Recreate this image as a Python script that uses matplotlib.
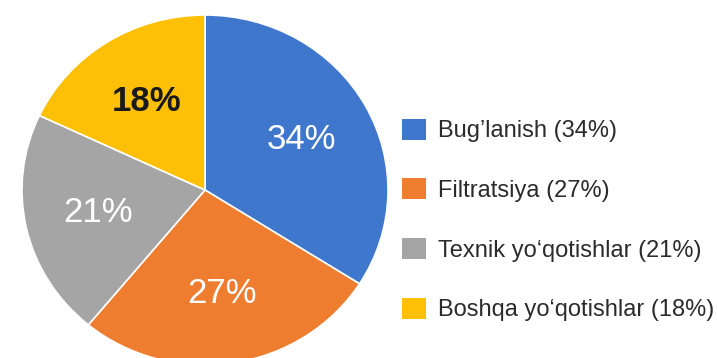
import matplotlib.pyplot as plt
from matplotlib.patches import Patch

# Data
labels = ["Bug’lanish", "Filtratsiya", "Texnik yo‘qotishlar", "Boshqa yo‘qotishlar"]
shares = [34, 27, 21, 18]
colors = ["#3F77CD", "#EE7D2F", "#A5A5A5", "#FDC006"]
pct_colors = ["white", "white", "white", "#1a1a1a"]

plt.rcParams['font.family'] = ['Liberation Sans', 'DejaVu Sans']

fig = plt.figure(figsize=(7.17, 3.58), dpi=100)
ax = fig.add_axes([0, 0, 1, 1])

wedges, texts, autotexts = ax.pie(
    shares, colors=colors, startangle=90, counterclock=False,
    autopct='%d%%', pctdistance=0.6,
    wedgeprops=dict(edgecolor='white', linewidth=1.2),
    textprops=dict(fontsize=25),
)
for t, c in zip(autotexts, pct_colors):
    t.set_color(c)
autotexts[3].set_fontweight('bold')

# map data to pixels: centre (205, 190), radii 183 x 175
ax.set_aspect('auto')
ax.set_xlim(-205 / 183, (717 - 205) / 183)
ax.set_ylim((190 - 358) / 175, 190 / 175)
ax.axis('off')

handles = [Patch(facecolor=c, edgecolor='none') for c in colors]
leg_labels = [f"{l} ({s}%)" for l, s in zip(labels, shares)]
fig.legend(handles, leg_labels, loc='center left', bbox_to_anchor=(381 / 717, 1 - 220 / 358),
           frameon=False, fontsize=17, labelcolor='#2b2b2b',
           handlelength=1.0, handleheight=1.0, handletextpad=0.5, labelspacing=1.53)

fig.savefig('out.png', dpi=100)
